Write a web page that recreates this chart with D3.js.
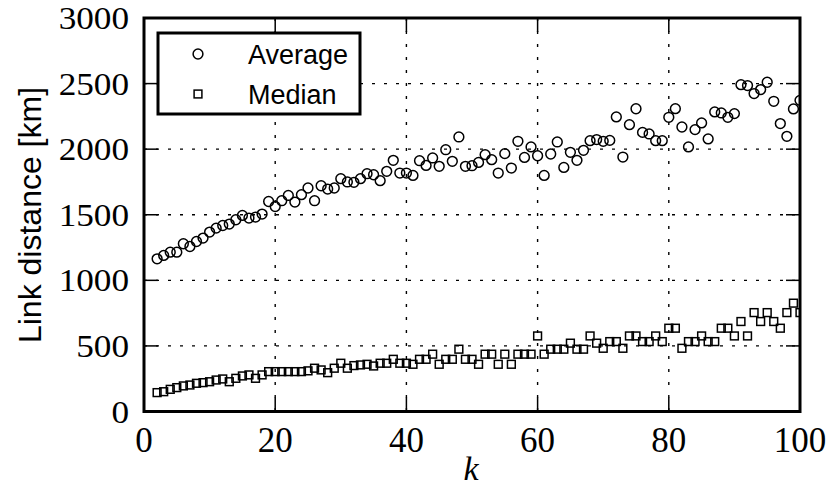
<!DOCTYPE html>
<html>
<head>
<meta charset="utf-8">
<script src="https://cdn.jsdelivr.net/npm/d3@7"></script>
<style>
  html, body { margin: 0; padding: 0; background: #fff; }
  svg { display: block; }
</style>
</head>
<body>
<svg id="chart" width="827" height="495"></svg>
<script>
// Link distance as a function of k (k = 2 … 100)
const kValues = d3.range(2, 101);

const averageKm = [
  1164, 1190, 1215, 1215, 1279, 1258, 1296, 1322, 1368, 1398,
  1418, 1429, 1462, 1495, 1475, 1482, 1505, 1601, 1563, 1607,
  1647, 1597, 1653, 1704, 1607, 1721, 1696, 1704, 1775, 1750,
  1747, 1775, 1813, 1805, 1760, 1831, 1915, 1818, 1818, 1800,
  1912, 1876, 1933, 1869, 1996, 1907, 2093, 1869, 1874, 1899,
  1958, 1920, 1818, 1966, 1856, 2060, 1937, 2017, 1950, 1800,
  1963, 2055, 1861, 1976, 1915, 1991, 2065, 2073, 2060, 2067,
  2246, 1940, 2187, 2308, 2128, 2116, 2065, 2065, 2243, 2309,
  2169, 2017, 2149, 2200, 2078, 2284, 2276, 2243, 2271, 2492,
  2485, 2424, 2454, 2510, 2365, 2195, 2098, 2307, 2372
];

const medianKm = [
  144, 151, 169, 182, 195, 202, 215, 220, 227, 240,
  248, 227, 253, 271, 279, 253, 279, 304, 304, 304,
  304, 304, 304, 310, 330, 317, 296, 330, 368, 330,
  350, 355, 360, 347, 368, 368, 398, 368, 368, 360,
  398, 398, 437, 360, 398, 398, 475, 398, 398, 360,
  437, 437, 360, 437, 360, 437, 437, 437, 576, 437,
  475, 475, 475, 521, 475, 475, 576, 521, 482, 533,
  533, 482, 576, 576, 533, 533, 576, 533, 635, 635,
  482, 533, 533, 576, 533, 533, 635, 635, 576, 686,
  576, 754, 686, 754, 686, 635, 754, 826, 754
];

const xTicks = [0, 20, 40, 60, 80, 100];
const yTicks = [0, 500, 1000, 1500, 2000, 2500, 3000];
const seriesNames = ["Average", "Median"];

const svg = d3.select("#chart");
const plot = { left: 144, right: 800, top: 18, bottom: 411.5 };

const x = d3.scaleLinear().domain([0, 100]).range([plot.left, plot.right]);
const y = d3.scaleLinear().domain([0, 3000]).range([plot.bottom, plot.top]);

svg.append("defs").append("clipPath").attr("id", "plot-clip")
  .append("rect")
  .attr("x", plot.left).attr("y", plot.top)
  .attr("width", plot.right - plot.left).attr("height", plot.bottom - plot.top);

// Dotted grid
const grid = svg.append("g").attr("stroke", "#000").attr("stroke-width", 1.4).attr("fill", "none");
grid.selectAll("line.gx").data(xTicks.slice(1, -1)).join("line")
  .attr("x1", d => x(d)).attr("x2", d => x(d))
  .attr("y1", plot.top).attr("y2", plot.bottom)
  .attr("stroke-dasharray", "3,10");
grid.selectAll("line.gy").data(yTicks.slice(1, -1)).join("line")
  .attr("y1", d => y(d)).attr("y2", d => y(d))
  .attr("x1", plot.left).attr("x2", plot.right)
  .attr("stroke-dasharray", "3,9");

// Markers
const marks = svg.append("g").attr("clip-path", "url(#plot-clip)")
  .attr("fill", "none").attr("stroke", "#000").attr("stroke-width", 1.5);

marks.selectAll("circle").data(kValues).join("circle")
  .attr("cx", (d) => x(d))
  .attr("cy", (d, i) => y(averageKm[i]))
  .attr("r", 4.9);

const sq = 7.8;
marks.selectAll("rect").data(kValues).join("rect")
  .attr("x", (d) => x(d) - sq / 2)
  .attr("y", (d, i) => y(medianKm[i]) - sq / 2)
  .attr("width", sq).attr("height", sq);

// Axes: inward ticks on all four sides
const tickLen = 14;
const axes = svg.append("g").attr("stroke", "#000").attr("stroke-width", 1.5);
axes.selectAll("line.tb").data(xTicks).join("line")
  .attr("x1", d => x(d)).attr("x2", d => x(d))
  .attr("y1", plot.bottom).attr("y2", plot.bottom - tickLen);
axes.selectAll("line.tt").data(xTicks).join("line")
  .attr("x1", d => x(d)).attr("x2", d => x(d))
  .attr("y1", plot.top).attr("y2", plot.top + tickLen);
axes.selectAll("line.tl").data(yTicks).join("line")
  .attr("y1", d => y(d)).attr("y2", d => y(d))
  .attr("x1", plot.left).attr("x2", plot.left + tickLen);
axes.selectAll("line.tr").data(yTicks).join("line")
  .attr("y1", d => y(d)).attr("y2", d => y(d))
  .attr("x1", plot.right).attr("x2", plot.right - tickLen);

svg.append("rect")
  .attr("x", plot.left).attr("y", plot.top)
  .attr("width", plot.right - plot.left).attr("height", plot.bottom - plot.top)
  .attr("fill", "none").attr("stroke", "#000").attr("stroke-width", 3);

// Tick labels
const serif = "'Liberation Serif', 'DejaVu Serif', serif";
svg.append("g").selectAll("text").data(xTicks).join("text")
  .attr("x", d => x(d)).attr("y", 452)
  .attr("text-anchor", "middle")
  .attr("font-family", serif).attr("font-size", 35)
  .text(d => d);
svg.append("g").selectAll("text").data(yTicks).join("text")
  .attr("transform", d => `translate(129,${y(d) + 11}) scale(1.1,1)`)
  .attr("text-anchor", "end")
  .attr("font-family", serif).attr("font-size", 32)
  .text(d => d);

// Axis titles
svg.append("text")
  .attr("x", 471).attr("y", 480)
  .attr("text-anchor", "middle")
  .attr("font-family", serif).attr("font-style", "italic").attr("font-size", 34)
  .text("k");

svg.append("text")
  .attr("transform", "translate(41,215) rotate(-90)")
  .attr("text-anchor", "middle")
  .attr("font-family", "'Liberation Sans', Arial, sans-serif").attr("font-size", 32)
  .text("Link distance [km]");

// Legend
const legend = svg.append("g");
legend.append("rect")
  .attr("x", 158).attr("y", 33).attr("width", 202).attr("height", 81)
  .attr("fill", "#fff").attr("stroke", "#000").attr("stroke-width", 3);
legend.append("circle")
  .attr("cx", 198).attr("cy", 54).attr("r", 4.9)
  .attr("fill", "none").attr("stroke", "#000").attr("stroke-width", 1.5);
legend.append("rect")
  .attr("x", 198 - sq / 2).attr("y", 94 - sq / 2).attr("width", sq).attr("height", sq)
  .attr("fill", "none").attr("stroke", "#000").attr("stroke-width", 1.5);
legend.selectAll("text").data(seriesNames).join("text")
  .attr("x", 248).attr("y", (d, i) => 64 + i * 40)
  .attr("font-family", "'Liberation Sans', Arial, sans-serif").attr("font-size", 27)
  .text(d => d);
</script>
</body>
</html>
